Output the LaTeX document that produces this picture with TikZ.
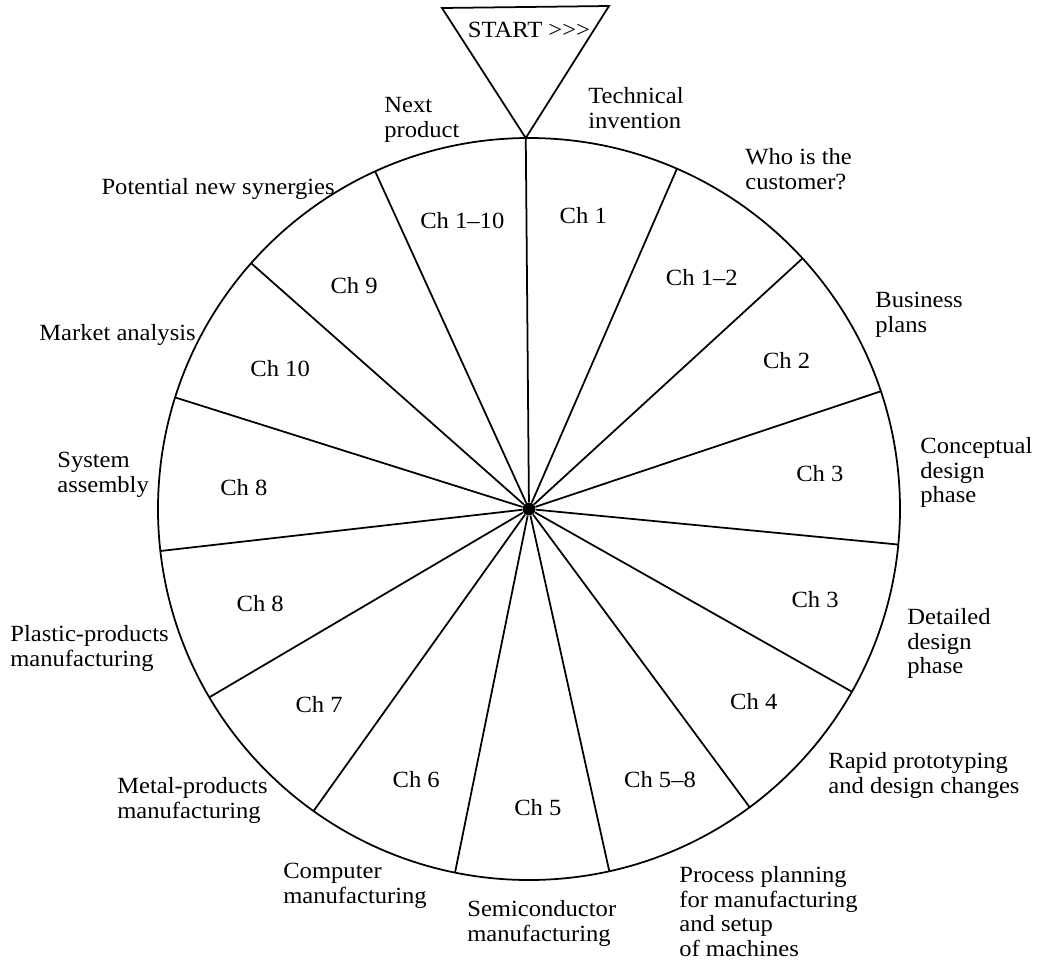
\documentclass[tikz,border=0pt]{standalone}
\usepackage{fontspec}
\setmainfont{Liberation Serif}[FakeStretch=1.06]
\usepackage{tikz}
\usetikzlibrary{positioning}
\tikzstyle{chap} = [inner sep=0pt, font=\fontsize{13.2}{14}\selectfont]
\tikzstyle{stage} = [inner sep=0pt, align=left, anchor=north west, font=\fontsize{13.2}{14}\selectfont]
\tikzstyle{spoke} = [line width=1pt]

\begin{document}
\begin{tikzpicture}
    \useasboundingbox (-10.58,-9.12) rectangle (10.26,10.18);
    % wheel
    \node (hub) [circle, fill=black, inner sep=0pt, minimum size=0.26cm] at (0,0) {};
    \draw [spoke] (hub.center) circle (7.42);
    \foreach \i in {0,...,14}
        \coordinate (rim\i) at (90.5-24*\i:7.42);
    \foreach \i in {0,...,14}
        \draw [spoke] (hub) -- (rim\i);
    % start marker
    \coordinate (tl) at (-1.74,10.02);
    \coordinate (tr) at (1.60,10.06);
    \draw [spoke] (tl) -- (tr) -- (rim0) -- cycle;
    \node (start) [chap, anchor=base] at (0,9.44) {START >{}>{}>};
    % chapters
    \node (ch1) [chap] at (79.5:5.96) {Ch 1};
    \node (ch12) [chap] at (53.2:5.77) {Ch 1--2};
    \node (ch2) [chap] at (30:5.95) {Ch 2};
    \node (ch3a) [chap] at (6.9:5.86) {Ch 3};
    \node (ch3b) [chap] at (-17.5:6.0) {Ch 3};
    \node (ch4) [chap] at (-40.6:5.92) {Ch 4};
    \node (ch58) [chap] at (-64.2:6.02) {Ch 5--8};
    \node (ch5) [chap] at (-88.3:5.98) {Ch 5};
    \node (ch6) [chap] at (-112.6:5.87) {Ch 6};
    \node (ch7) [chap] at (-137:5.74) {Ch 7};
    \node (ch8a) [chap] at (-160.6:5.7) {Ch 8};
    \node (ch8b) [chap] at (175.6:5.72) {Ch 8};
    \node (ch10) [chap] at (150.5:5.72) {Ch 10};
    \node (ch9) [chap] at (128:5.68) {Ch 9};
    \node (ch110) [chap] at (103:5.93) {Ch 1--10};
    % stages round the rim
    \node (next) [stage] at (-2.90,8.24) {Next\\product};
    \node (tech) [stage] at (1.18,8.44) {Technical\\invention};
    \node (cust) [stage] at (4.32,7.22) {Who is the\\customer?};
    \node (busi) [stage] at (6.92,4.34) {Business\\plans};
    \node (conc) [stage] at (7.82,1.44) {Conceptual\\design\\phase};
    \node (deta) [stage] at (7.56,-1.98) {Detailed\\design\\phase};
    \node (rapid) [stage] at (5.98,-4.86) {Rapid prototyping\\and design changes};
    \node (plan) [stage] at (3.00,-7.14) {Process planning\\for manufacturing\\and setup\\of machines};
    \node (semi) [stage] at (-1.24,-7.82) {Semiconductor\\manufacturing};
    \node (comp) [stage] at (-4.92,-7.08) {Computer\\manufacturing};
    \node (metal) [stage] at (-8.24,-5.36) {Metal-products\\manufacturing};
    \node (plast) [stage] at (-10.38,-2.32) {Plastic-products\\manufacturing};
    \node (syst) [stage] at (-9.44,1.14) {System\\assembly};
    \node (mark) [stage] at (-9.80,3.70) {Market analysis};
    \node (syne) [stage, anchor=north east] at (-3.88,6.62) {Potential new synergies};
\end{tikzpicture}
\end{document}
